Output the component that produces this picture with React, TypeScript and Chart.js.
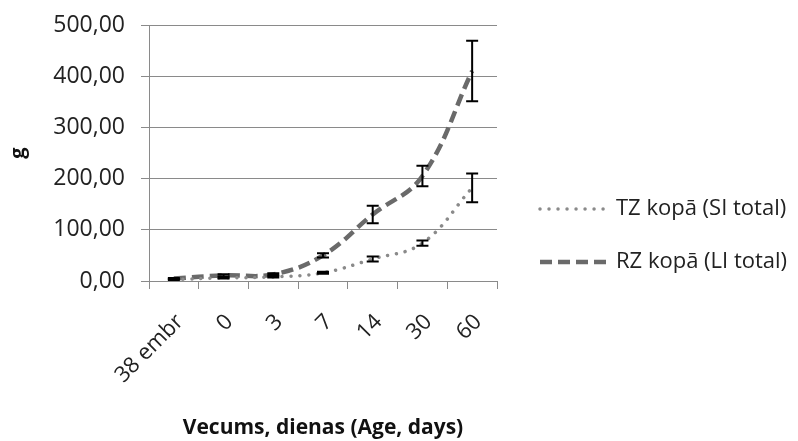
import React, { useEffect, useRef } from "react";
import { Chart, registerables } from "chart.js";

Chart.register(...registerables);

const categories = ["38 embr", "0", "3", "7", "14", "30", "60"];
const tzValues = [3, 6, 8, 16, 43, 74, 182];
const tzErrors = [1, 1, 1, 2, 5, 5, 28];
const rzValues = [5, 11, 13, 50, 130, 205, 410];
const rzErrors = [1, 2, 2, 4, 17, 20, 59];
const seriesNames = ["TZ kopā (SI total)", "RZ kopā (LI total)"];
const yTicks = [0, 100, 200, 300, 400, 500];

const FONT = "'Open Sans', 'DejaVu Sans', sans-serif";
const errorsByDataset = [tzErrors, rzErrors];

const errorBarPlugin = {
  id: "errorBars",
  afterDatasetsDraw(chart: any) {
    const ctx = chart.ctx;
    const yScale = chart.scales.y;
    ctx.save();
    ctx.strokeStyle = "#000";
    ctx.lineWidth = 2;
    ctx.setLineDash([]);
    chart.data.datasets.forEach((ds: any, i: number) => {
      const meta = chart.getDatasetMeta(i);
      const errs = errorsByDataset[i];
      meta.data.forEach((pt: any, j: number) => {
        const v = ds.data[j];
        const e = errs[j];
        const x = pt.x;
        const yT = yScale.getPixelForValue(v + e);
        const yB = yScale.getPixelForValue(v - e);
        const cap = 6;
        ctx.beginPath();
        ctx.moveTo(x, yT);
        ctx.lineTo(x, yB);
        ctx.moveTo(x - cap, yT);
        ctx.lineTo(x + cap, yT);
        ctx.moveTo(x - cap, yB);
        ctx.lineTo(x + cap, yB);
        ctx.stroke();
      });
    });
    ctx.restore();
  },
};

const legendPlugin = {
  id: "customLegend",
  afterDraw(chart: any) {
    const ctx = chart.ctx;
    const area = chart.chartArea;
    const x0 = area.right + 43;
    const lineLen = 68;
    const ys = [209, 262];
    ctx.save();
    chart.data.datasets.forEach((ds: any, i: number) => {
      const y = ys[i];
      ctx.strokeStyle = ds.borderColor;
      ctx.lineWidth = ds.borderWidth;
      ctx.lineCap = ds.borderCapStyle || "butt";
      ctx.setLineDash(ds.borderDash || []);
      ctx.beginPath();
      ctx.moveTo(x0, y);
      ctx.lineTo(x0 + lineLen, y);
      ctx.stroke();
      ctx.setLineDash([]);
      ctx.fillStyle = "#222";
      ctx.font = `22px ${FONT}`;
      ctx.textBaseline = "middle";
      ctx.textAlign = "left";
      ctx.fillText(ds.label, x0 + lineLen + 8, y);
    });
    ctx.restore();
  },
};

export default function App() {
  const ref = useRef<HTMLCanvasElement>(null);
  useEffect(() => {
    if (!ref.current) return;
    const chart = new Chart(ref.current, {
      type: "line",
      data: {
        labels: categories,
        datasets: [
          {
            label: seriesNames[0],
            data: tzValues,
            borderColor: "#8a8a8a",
            borderWidth: 3.5,
            borderDash: [0.01, 9],
            borderCapStyle: "round",
            tension: 0.4,
            pointRadius: 0,
            fill: false,
          },
          {
            label: seriesNames[1],
            data: rzValues,
            borderColor: "#6a6a6a",
            borderWidth: 4.5,
            borderDash: [12, 6],
            borderCapStyle: "butt",
            tension: 0.4,
            pointRadius: 0,
            fill: false,
          },
        ],
      },
      options: {
        responsive: false,
        animation: false,
        layout: { padding: { left: 0, top: 25, right: 301, bottom: 0 } },
        plugins: {
          legend: { display: false },
          tooltip: { enabled: false },
        },
        scales: {
          x: {
            type: "category",
            offset: true,
            grid: {
              offset: true,
              drawOnChartArea: false,
              drawTicks: true,
              tickLength: 8,
              color: "#8a8a8a",
            },
            border: { color: "#8a8a8a" },
            ticks: {
              minRotation: 45,
              maxRotation: 45,
              padding: 20,
              labelOffset: 6,
              color: "#222",
              font: { family: FONT, size: 22 },
              autoSkip: false,
            },
            title: {
              display: true,
              text: "Vecums, dienas (Age, days)",
              color: "#111",
              font: { family: FONT, size: 21, weight: "bold" },
              padding: { top: 0, bottom: 0 },
            },
            afterFit: (scale: any) => {
              scale.height = 160;
              scale.paddingLeft = 0;
              scale.paddingRight = 0;
              scale.paddingTop = 0;
              scale.paddingBottom = 0;
            },
          },
          y: {
            min: 0,
            max: 500,
            afterBuildTicks: (scale: any) => {
              scale.ticks = yTicks.map((v) => ({ value: v }));
            },
            grid: {
              color: "#8a8a8a",
              tickLength: 8,
            },
            border: { color: "#8a8a8a" },
            ticks: {
              padding: 16,
              color: "#222",
              font: { family: FONT, size: 23 },
              callback: (v: any) => Number(v).toFixed(2).replace(".", ","),
            },
            title: {
              display: true,
              text: "g",
              color: "#111",
              font: { family: FONT, size: 20, weight: "bold" },
              padding: { top: 6, bottom: 0 },
            },
            afterFit: (scale: any) => {
              scale.width = 149;
              scale.paddingTop = 0;
              scale.paddingBottom = 0;
              scale.paddingLeft = 0;
              scale.paddingRight = 0;
            },
          },
        },
      },
      plugins: [errorBarPlugin, legendPlugin],
    });
    return () => chart.destroy();
  }, []);
  return (
    <div style={{ position: "absolute", left: 0, top: 0, width: 798, height: 441, background: "#fff" }}>
      <canvas ref={ref} width={798} height={441} style={{ display: "block" }} />
    </div>
  );
}
